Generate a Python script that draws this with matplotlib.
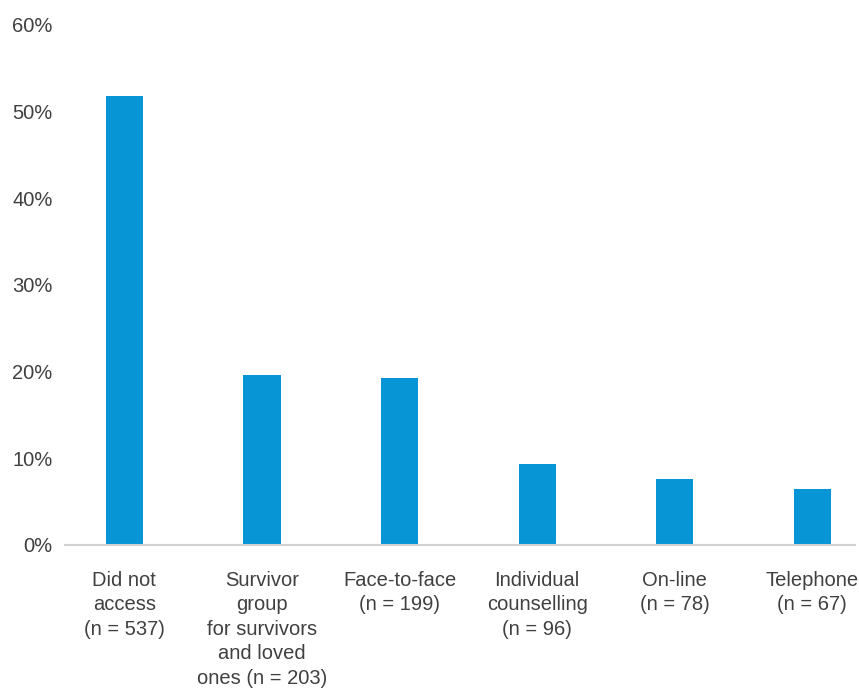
import matplotlib
matplotlib.use("Agg")
import matplotlib.pyplot as plt
from matplotlib.ticker import FuncFormatter

# Support accessed after a loss, share of respondents (%)
categories = [
    "Did not\naccess\n(n = 537)",
    "Survivor\ngroup\nfor survivors\nand loved\nones (n = 203)",
    "Face-to-face\n(n = 199)",
    "Individual\ncounselling\n(n = 96)",
    "On-line\n(n = 78)",
    "Telephone\n(n = 67)",
]
values = [51.8, 19.6, 19.3, 9.35, 7.6, 6.5]
y_ticks = [0, 10, 20, 30, 40, 50, 60]

bar_color = "#0795D6"
text_color = "#404040"

plt.rcParams["font.family"] = ["Liberation Sans", "DejaVu Sans"]

fig = plt.figure(figsize=(8.59, 6.88), dpi=100)
ax = fig.add_axes([65 / 859, 1 - 545 / 688, (855 - 65) / 859, (545 - 25) / 688])

x = list(range(len(categories)))
ax.bar(x, values, width=0.27, color=bar_color, zorder=2)

ax.set_xlim(-0.432, 5.31)
ax.set_ylim(0, 60)
ax.set_yticks(y_ticks)
ax.yaxis.set_major_formatter(FuncFormatter(lambda v, _: f"{int(v)}%"))
ax.set_xticks(x)
ax.set_xticklabels(categories, linespacing=1.37)

for side in ("top", "right", "left"):
    ax.spines[side].set_visible(False)
ax.spines["bottom"].set_color("#d0d0d0")
ax.spines["bottom"].set_linewidth(1.5)

ax.tick_params(axis="both", length=0, labelsize=14.5, labelcolor=text_color)
ax.tick_params(axis="y", pad=9)
ax.tick_params(axis="x", pad=18.5)

fig.savefig("out.png", dpi=100, facecolor="white")
